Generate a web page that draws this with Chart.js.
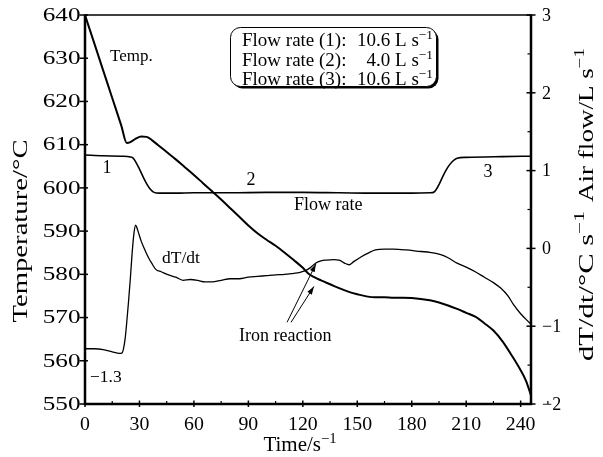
<!DOCTYPE html>
<html>
<head>
<meta charset="utf-8">
<script src="https://cdn.jsdelivr.net/npm/chart.js@4.4.1/dist/chart.umd.min.js"></script>
<style>
  body { margin: 0; background: #fff; }
  #chart { display: block; }
</style>
</head>
<body>
<canvas id="chart" width="603" height="457"></canvas>
<script>
/* ================================
   Data
================================ */
const tempTime = [0, 5, 10, 15, 20, 23, 25, 28, 31, 34, 37, 40, 45, 50, 55, 60, 65, 70, 75, 80,
  85, 90, 95, 100, 105, 110, 115, 120, 123, 126, 130, 135, 140, 145, 150, 155, 160, 165, 170, 175,
  180, 185, 190, 195, 200, 205, 210, 215, 220, 225, 230, 235, 240, 243, 245.7];
const tempValue = [640, 633.6, 627.2, 620.8, 614.4, 610.4, 610.6, 611.4, 611.9, 611.8, 611.0, 610.0, 608.3, 606.6, 604.8, 603.0, 601.1, 599.2, 597.3, 595.3,
  593.3, 591.3, 589.5, 588.0, 586.6, 585.0, 583.3, 581.5, 580.2, 579.4, 578.6, 577.7, 576.8, 576.0, 575.4, 574.9, 574.7, 574.7, 574.6, 574.6,
  574.5, 574.3, 574.0, 573.5, 572.8, 572.0, 571.1, 570.2, 568.7, 567.0, 564.5, 561.3, 557.8, 555.3, 552.0];

const dtTime = [0, 5, 10, 15, 19, 20.5, 22, 23, 24, 25, 26, 27, 27.9, 28.7, 29.5, 31, 33, 35, 37, 39,
  42, 46, 50, 54, 58, 62, 66, 70, 75, 80, 85, 90, 95, 100, 105, 110, 115, 118, 121, 124,
  127, 130, 133, 137, 140, 143, 145.5, 148, 152, 156, 160, 165, 170, 177, 185, 190, 196, 200, 205, 210,
  215, 220, 225, 229, 233, 236, 240, 245.5];
const dtValue = [-1.29, -1.29, -1.30, -1.33, -1.35, -1.34, -1.18, -0.95, -0.68, -0.38, -0.05, 0.20, 0.30, 0.26, 0.20, 0.09, -0.02, -0.12, -0.20, -0.27,
  -0.30, -0.34, -0.37, -0.41, -0.40, -0.41, -0.43, -0.43, -0.41, -0.39, -0.39, -0.37, -0.36, -0.35, -0.34, -0.335, -0.32, -0.31, -0.29, -0.25,
  -0.19, -0.16, -0.15, -0.145, -0.15, -0.19, -0.21, -0.17, -0.11, -0.06, -0.02, -0.01, -0.01, -0.02, -0.04, -0.05, -0.08, -0.12, -0.19, -0.24,
  -0.30, -0.37, -0.44, -0.51, -0.61, -0.72, -0.84, -0.97];

const flowTime = [0, 10, 20, 25, 26.5, 28, 30, 32, 34, 36, 38, 41, 50, 60, 80, 100, 120, 140, 160, 180,
  190, 192, 193, 195, 197, 199, 201, 203, 205, 210, 230, 245.7];
const flowValue = [1.20, 1.19, 1.185, 1.175, 1.16, 1.11, 1.02, 0.92, 0.83, 0.76, 0.72, 0.71, 0.71, 0.715, 0.715, 0.72, 0.72, 0.715, 0.71, 0.71,
  0.715, 0.72, 0.74, 0.82, 0.92, 1.01, 1.08, 1.13, 1.16, 1.17, 1.18, 1.185];

const timeTicks = [0, 30, 60, 90, 120, 150, 180, 210, 240];
const tempTicks = [550, 560, 570, 580, 590, 600, 610, 620, 630, 640];
const rightTicks = [-2, -1, 0, 1, 2, 3];
const rightTickLabels = ["\u22122", "\u22121", "0", "1", "2", "3"];

const legendNames = ["Flow rate (1):", "Flow rate (2):", "Flow rate (3):"];
const legendRates = ["10.6", "4.0", "10.6"];

/* ================================
   Text helper (serif, optional stretch / superscript)
================================ */
const SERIF = '"Liberation Serif", "Times New Roman", serif';

function drawText(ctx, parts, x, y, o = {}) {
  if (typeof parts === "string") parts = [{ t: parts }];
  const size = o.size || 18;
  const supSize = size * 0.7;
  ctx.save();
  ctx.translate(x, y);
  if (o.rotate) ctx.rotate(o.rotate);
  ctx.textAlign = "left";
  ctx.textBaseline = o.baseline || "alphabetic";
  ctx.fillStyle = "#000";
  const widths = parts.map(p => {
    ctx.font = `${p.sup ? supSize : size}px ${SERIF}`;
    return ctx.measureText(p.t).width;
  });
  const total = widths.reduce((a, b) => a + b, 0);
  // fit: stretch text along its run to a given length
  ctx.scale(o.fit ? o.fit / total : (o.stretch || 1), 1);
  let cx = o.align === "center" ? -total / 2 : o.align === "right" ? -total : 0;
  parts.forEach((p, i) => {
    ctx.font = `${p.sup ? supSize : size}px ${SERIF}`;
    ctx.fillText(p.t, cx, p.sup ? -size * 0.36 : 0);
    cx += widths[i];
  });
  ctx.restore();
}

function seg(ctx, x1, y1, x2, y2, w) {
  ctx.lineWidth = w;
  ctx.beginPath();
  ctx.moveTo(x1, y1);
  ctx.lineTo(x2, y2);
  ctx.stroke();
}

function arrow(ctx, x1, y1, x2, y2) {
  seg(ctx, x1, y1, x2, y2, 1);
  const ang = Math.atan2(y2 - y1, x2 - x1);
  const len = 8, half = 2.6;
  ctx.beginPath();
  ctx.moveTo(x2, y2);
  ctx.lineTo(x2 - len * Math.cos(ang) + half * Math.sin(ang), y2 - len * Math.sin(ang) - half * Math.cos(ang));
  ctx.lineTo(x2 - len * Math.cos(ang) - half * Math.sin(ang), y2 - len * Math.sin(ang) + half * Math.cos(ang));
  ctx.closePath();
  ctx.fill();
}

function roundRect(ctx, x, y, w, h, r) {
  ctx.beginPath();
  ctx.moveTo(x + r, y);
  ctx.arcTo(x + w, y, x + w, y + h, r);
  ctx.arcTo(x + w, y + h, x, y + h, r);
  ctx.arcTo(x, y + h, x, y, r);
  ctx.arcTo(x, y, x + w, y, r);
  ctx.closePath();
}

/* ================================
   Axes, labels and notes
================================ */
const paperAxes = {
  id: "paperAxes",
  afterDatasetsDraw(chart) {
    const { ctx, chartArea: a, scales } = chart;
    const sx = scales.x, sT = scales.yT, sR = scales.yR;
    const minorStep = sx.getPixelForValue(15) - sx.getPixelForValue(0);
    ctx.save();
    ctx.strokeStyle = "#000";
    ctx.fillStyle = "#000";

    // frame
    seg(ctx, a.left, a.top, a.right, a.top, 1.5);
    seg(ctx, a.left, a.top - 0.5, a.left, a.bottom + 1, 2.5);
    seg(ctx, a.right, a.top - 0.5, a.right, a.bottom + 1, 2.5);
    seg(ctx, a.left - 1, a.bottom, a.right + 1, a.bottom, 2.5);

    // left axis
    tempTicks.forEach(v => {
      const py = sT.getPixelForValue(v);
      seg(ctx, a.left - 5.5, py, a.left + 3, py, 1.5);
      drawText(ctx, String(v), a.left - 4.5, py + 1, { align: "right", baseline: "middle", size: 18, stretch: 1.4 });
    });

    // bottom axis
    timeTicks.forEach(v => {
      const px = sx.getPixelForValue(v);
      seg(ctx, px, a.bottom - 3.5, px, a.bottom + 3, 1.5);
      seg(ctx, px + minorStep, a.bottom - 3, px + minorStep, a.bottom, 1.2);
      drawText(ctx, String(v), px, a.bottom + 26, { align: "center", size: 18, stretch: 1.1 });
    });

    // right axis
    rightTicks.forEach((v, i) => {
      const py = sR.getPixelForValue(v);
      seg(ctx, a.right - 4.5, py, a.right + 4.5, py, 1.5);
      if (v < 3) {
        const pm = sR.getPixelForValue(v + 0.5);
        seg(ctx, a.right - 3.5, pm, a.right, pm, 1.2);
      }
      drawText(ctx, rightTickLabels[i], a.right + 11, py + 1, { baseline: "middle", size: 18 });
    });

    // axis titles
    drawText(ctx, "Temperature/\u00b0C", 22, 231, { align: "center", baseline: "middle", rotate: -Math.PI / 2, size: 20, fit: 183 });
    drawText(ctx, [{ t: "Time/s" }, { t: "\u22121", sup: true }], 300, 451, { align: "center", size: 21 });
    drawText(ctx, [{ t: "Air flow/L s" }, { t: "\u22121", sup: true }], 588, 125, { align: "center", baseline: "middle", rotate: -Math.PI / 2, size: 20, fit: 154 });
    drawText(ctx, [{ t: "dT/dt/\u00b0C s" }, { t: "\u22121", sup: true }], 588, 286, { align: "center", baseline: "middle", rotate: -Math.PI / 2, size: 20, fit: 150 });

    // curve notes
    drawText(ctx, "Temp.", 110, 61, { size: 17 });
    drawText(ctx, "1", 107, 173, { align: "center", size: 18 });
    drawText(ctx, "2", 251, 185, { align: "center", size: 18 });
    drawText(ctx, "3", 488, 177, { align: "center", size: 18 });
    drawText(ctx, "Flow rate", 294, 210, { size: 18 });
    drawText(ctx, "dT/dt", 162, 263, { size: 17.5 });
    drawText(ctx, "\u22121.3", 90, 382, { size: 17.5 });
    drawText(ctx, "Iron reaction", 239, 341, { size: 18 });

    // arrows to the iron reaction features
    arrow(ctx, sx.getPixelForValue(111.3), sR.getPixelForValue(-0.95), sx.getPixelForValue(127.2), sR.getPixelForValue(-0.2));
    arrow(ctx, sx.getPixelForValue(113.5), sR.getPixelForValue(-0.95), sx.getPixelForValue(126.1), sR.getPixelForValue(-0.49));

    // flow rate box
    ctx.fillStyle = "#000";
    roundRect(ctx, 232.5, 29.5, 206, 59, 10);
    ctx.fill();
    ctx.fillStyle = "#fff";
    roundRect(ctx, 230.5, 27.5, 206, 59, 10);
    ctx.fill();
    ctx.lineWidth = 1;
    ctx.stroke();
    legendNames.forEach((name, i) => {
      const by = 46 + i * 19.5;
      drawText(ctx, name, 242, by, { size: 19 });
      drawText(ctx, [{ t: legendRates[i] + " L s" }, { t: "\u22121", sup: true }], 433, by, { align: "right", size: 19 });
    });

    ctx.restore();
  }
};

/* ================================
   Chart
================================ */
const toPoints = (xs, ys) => xs.map((x, i) => ({ x, y: ys[i] }));

new Chart(document.getElementById("chart"), {
  type: "line",
  data: {
    datasets: [
      { label: "Temp.", data: toPoints(tempTime, tempValue), yAxisID: "yT", borderColor: "#000", borderWidth: 2 },
      { label: "Flow rate", data: toPoints(flowTime, flowValue), yAxisID: "yR", borderColor: "#000", borderWidth: 1.6 },
      { label: "dT/dt", data: toPoints(dtTime, dtValue), yAxisID: "yR", borderColor: "#000", borderWidth: 1.3 }
    ]
  },
  options: {
    responsive: false,
    animation: false,
    layout: { padding: { left: 85, right: 72, top: 15, bottom: 53 } },
    elements: {
      point: { radius: 0 },
      line: { cubicInterpolationMode: "monotone", fill: false }
    },
    plugins: { legend: { display: false }, tooltip: { enabled: false } },
    scales: {
      x: { type: "linear", min: 0, max: 245.7, display: false },
      yT: { type: "linear", position: "left", min: 550, max: 640, display: false },
      yR: { type: "linear", position: "right", min: -2, max: 3, display: false }
    }
  },
  plugins: [paperAxes]
});
</script>
</body>
</html>
